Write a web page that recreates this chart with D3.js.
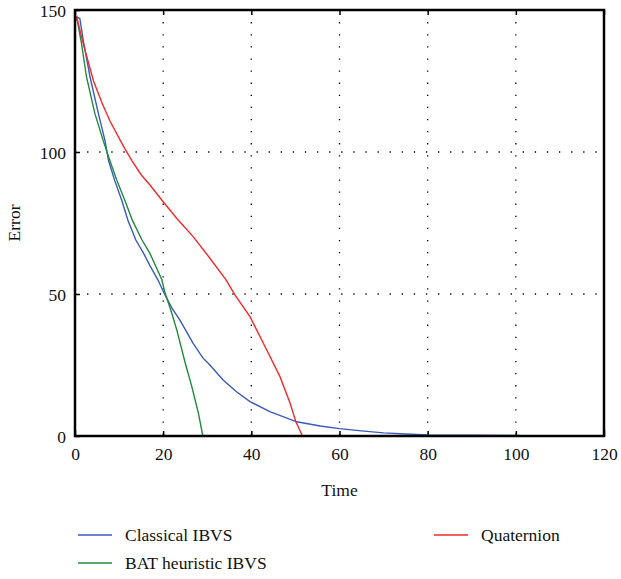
<!DOCTYPE html>
<html>
<head>
<meta charset="utf-8">
<script src="https://cdn.jsdelivr.net/npm/d3@7"></script>
<style>
  body { margin: 0; background: #fff; }
  svg text { font-family: "Liberation Serif", "DejaVu Serif", serif; fill: #111; }
</style>
</head>
<body>
<svg id="chart" width="621" height="579"></svg>
<script>
// data
const classicalT = [0, 0.6, 1.1, 1.9, 3.4, 5.3, 6.8, 7.6, 9, 10.6, 12, 13.8, 15.5, 17, 18.8, 20.3, 22, 23.8, 26.8, 29, 30.6, 33.6, 36.7, 39.7, 44.2, 50.3, 55.6, 60, 65, 70, 75, 80, 90, 101];
const classicalV = [146, 147.4, 147, 139, 126.5, 113.6, 104, 97, 90, 83, 76, 69, 64.5, 60, 55, 50, 45, 40.8, 32.6, 27.5, 25, 19.7, 15.5, 12.1, 8.6, 5, 3.5, 2.6, 1.8, 1.1, 0.7, 0.4, 0.3, 0.2];

const batT = [0, 0.4, 1.5, 2.6, 4.5, 6.4, 7.9, 9.5, 11.3, 13, 15.2, 17, 19.7, 20.4, 21.8, 23.1, 25, 26.5, 28, 29];
const batV = [146, 147.4, 138, 126.5, 113.6, 104, 97, 90, 83, 76, 69, 64.3, 55, 50.5, 44, 37.3, 25.7, 17.4, 8, 0];

const quatT = [0, 0.4, 1.9, 4.2, 6.2, 7.9, 11, 12.9, 15, 17, 20, 23.1, 26.8, 30.6, 34.3, 36.3, 39.7, 43.5, 46.5, 48.8, 50.1, 51.6];
const quatV = [146, 147.4, 138, 125, 117, 111, 102, 97, 92, 88.4, 82.5, 76.6, 70.2, 62.6, 54.9, 49.6, 42, 30.3, 20.9, 11.5, 5, 0];

const xTicks = [0, 20, 40, 60, 80, 100, 120];
const yTicks = [0, 50, 100, 150];

const series = [
  { name: 'Classical IBVS', t: classicalT, v: classicalV, color: '#3a5bbd' },
  { name: 'BAT heuristic IBVS', t: batT, v: batV, color: '#1f8a3e' },
  { name: 'Quaternion', t: quatT, v: quatV, color: '#f52a2a' }
];

const svg = d3.select('#chart');
const plotL = 75, plotR = 604, plotT = 10, plotB = 436;

const x = d3.scaleLinear().domain([0, 120]).range([plotL, plotR]);
const y = d3.scaleLinear().domain([0, 150]).range([plotB, plotT]);

// dotted grid
svg.append('g').selectAll('line')
  .data(xTicks.slice(1, -1))
  .enter().append('line')
  .attr('x1', d => x(d)).attr('x2', d => x(d))
  .attr('y1', plotT).attr('y2', plotB)
  .attr('stroke', '#000').attr('stroke-width', 1.3)
  .attr('stroke-dasharray', '1.3,10.8');

svg.append('g').selectAll('line')
  .data(yTicks.slice(1, -1))
  .enter().append('line')
  .attr('x1', plotL).attr('x2', plotR)
  .attr('y1', d => y(d)).attr('y2', d => y(d))
  .attr('stroke', '#000').attr('stroke-width', 1.3)
  .attr('stroke-dasharray', '1.3,10.8');

// axes with inward ticks
const xAxis = d3.axisBottom(x).tickValues(xTicks).tickSize(-5).tickPadding(12);
const yAxis = d3.axisLeft(y).tickValues(yTicks).tickSize(-5).tickPadding(9);

const gx = svg.append('g').attr('transform', `translate(0,${plotB})`).call(xAxis);
const gy = svg.append('g').attr('transform', `translate(${plotL},0)`).call(yAxis);
[gx, gy].forEach(g => {
  g.select('.domain').remove();
  g.selectAll('.tick line').attr('stroke', '#000').attr('stroke-width', 1.5);
  g.selectAll('.tick text').style('font-size', '17.5px')
    .style('font-family', '"Liberation Serif", serif').attr('fill', '#111');
});
gy.selectAll('.tick text').attr('dy', '0.35em');

// top ticks
svg.append('g').attr('transform', `translate(0,${plotT})`)
  .call(d3.axisTop(x).tickValues(xTicks).tickSize(-5).tickFormat(''))
  .call(g => g.select('.domain').remove())
  .selectAll('.tick line').attr('stroke', '#000').attr('stroke-width', 1.5);

// series lines
const line = d3.line()
  .x(d => x(d[0]))
  .y(d => y(d[1]));

series.forEach(s => {
  svg.append('path')
    .datum(s.t.map((t, i) => [t, s.v[i]]))
    .attr('d', line)
    .attr('fill', 'none')
    .attr('stroke', s.color)
    .attr('stroke-width', 1.4);
});

// frame
svg.append('rect')
  .attr('x', plotL).attr('y', plotT)
  .attr('width', plotR - plotL).attr('height', plotB - plotT)
  .attr('fill', 'none').attr('stroke', '#000').attr('stroke-width', 2.5);

// axis titles
svg.append('text')
  .attr('x', (plotL + plotR) / 2).attr('y', 496)
  .attr('text-anchor', 'middle')
  .style('font-size', '17.5px')
  .text('Time');

svg.append('text')
  .attr('transform', `translate(20,${(plotT + plotB) / 2}) rotate(-90)`)
  .attr('text-anchor', 'middle')
  .style('font-size', '17.5px')
  .text('Error');

// legend
const legendPos = [
  { lx: 78, ly: 535 },
  { lx: 78, ly: 563 },
  { lx: 434, ly: 535 }
];
series.forEach((s, i) => {
  const p = legendPos[i];
  svg.append('line')
    .attr('x1', p.lx).attr('x2', p.lx + 34)
    .attr('y1', p.ly).attr('y2', p.ly)
    .attr('stroke', s.color).attr('stroke-width', 1.4);
  svg.append('text')
    .attr('x', p.lx + 47).attr('y', p.ly)
    .attr('dy', '0.35em')
    .style('font-size', '17.5px')
    .text(s.name);
});
</script>
</body>
</html>
